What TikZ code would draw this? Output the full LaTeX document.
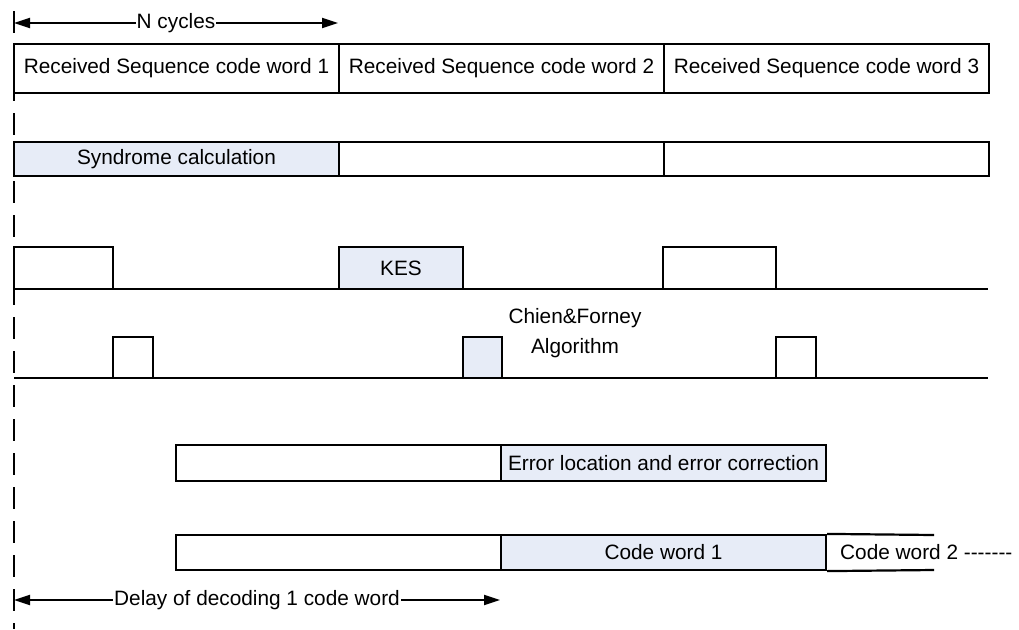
\documentclass[tikz,border=0pt]{standalone}
\usepackage{fontspec}
\setmainfont{Liberation Sans}
\usetikzlibrary{arrows.meta}
\definecolor{stagefill}{RGB}{231,236,247}
\begin{document}
\begin{tikzpicture}[x=1pt,y=-1pt,
  every node/.style={font=\fontsize{20.8}{30}\selectfont, inner sep=0pt},
  cell/.style={draw, line width=2.2pt, rectangle},
  busy/.style={cell, fill=stagefill},
  pulse/.style={draw, line width=2.2pt, rectangle},
  rail/.style={line width=2.4pt},
  span/.style={line width=2pt, -{Triangle[length=16pt,width=10pt]}},
  spanlabel/.style={fill=white, inner xsep=1pt}]
\useasboundingbox (0,0) rectangle (1019,629);

% time origin marker
\draw[line width=2.4pt, dash pattern=on 22pt off 12pt] (14,11) -- (14,629);

% N cycles span
\coordinate (n0) at (14,23);
\coordinate (n1) at (338,23);
\draw[span] (176,23) -- (n0);
\draw[span] (176,23) -- (n1);
\node[spanlabel] (nlab) at (176,23) {N cycles};

% received sequence
\node[cell, minimum width=325pt, minimum height=49pt] (rx1) at (176.5,68.5) {Received Sequence code word 1};
\node[cell, minimum width=325pt, minimum height=49pt] (rx2) at (501.5,68.5) {Received Sequence code word 2};
\node[cell, minimum width=325pt, minimum height=49pt] (rx3) at (826.5,68.5) {Received Sequence code word 3};

% syndrome calculation
\node[busy, minimum width=325pt, minimum height=34pt] (sy1) at (176.5,159) {Syndrome calculation};
\node[cell, minimum width=325pt, minimum height=34pt] (sy2) at (501.5,159) {};
\node[cell, minimum width=325pt, minimum height=34pt] (sy3) at (826.5,159) {};

% KES pulses
\coordinate (k0) at (14,289);
\coordinate (k1) at (988,289);
\node[pulse, minimum width=99pt, minimum height=42pt] (ke1) at (63.5,268) {};
\node[pulse, fill=stagefill, minimum width=124pt, minimum height=42pt] (ke2) at (401,268) {KES};
\node[pulse, minimum width=113pt, minimum height=42pt] (ke3) at (719.5,268) {};
\draw[rail] (k0) -- (k1);

% Chien & Forney pulses
\coordinate (c0) at (14,378);
\coordinate (c1) at (988,378);
\node[pulse, minimum width=40pt, minimum height=41pt] (cf1) at (133,357.5) {};
\node[pulse, fill=stagefill, minimum width=39pt, minimum height=41pt] (cf2) at (482.5,357.5) {};
\node[pulse, minimum width=40pt, minimum height=41pt] (cf3) at (796,357.5) {};
\draw[rail] (c0) -- (c1);
\node[align=center] (cflab) at (575,333) {Chien\&Forney\\Algorithm};

% error location and correction
\node[cell, minimum width=325pt, minimum height=36pt] (el1) at (338.5,463) {};
\node[busy, minimum width=325pt, minimum height=36pt] (el2) at (663.5,463) {Error location and error correction};

% output code words
\node[cell, minimum width=325pt, minimum height=35pt] (ow1) at (338.5,552.5) {};
\node[busy, minimum width=325pt, minimum height=35pt] (ow2) at (663.5,552.5) {Code word 1};
\coordinate (ot) at (934,535);
\coordinate (ob) at (934,570);
\draw[line width=2.2pt] (ow2.north east) -- (ot);
\draw[line width=2.2pt] (ow2.south east) -- (ob);
\node[anchor=west] (ow3) at (840,552.5) {Code word 2 -{}-{}-{}-{}-{}-{}-};

% decoding delay span
\coordinate (d0) at (14,600);
\coordinate (d1) at (500,600);
\draw[span] (257,600) -- (d0);
\draw[span] (257,600) -- (d1);
\node[spanlabel] (dlab) at (257,600) {Delay of decoding 1 code word};
\end{tikzpicture}
\end{document}
